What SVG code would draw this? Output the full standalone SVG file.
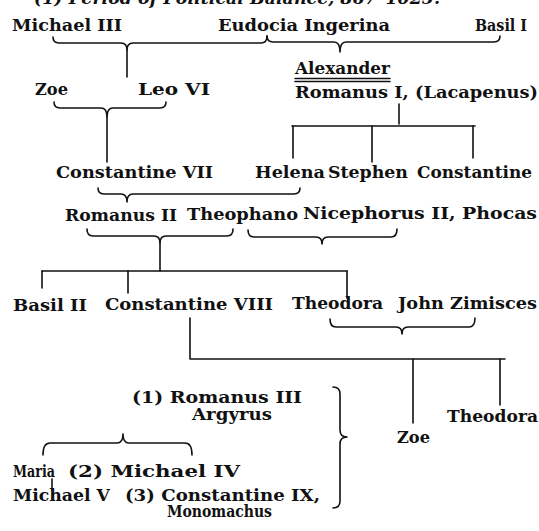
<svg xmlns="http://www.w3.org/2000/svg" width="539" height="531" viewBox="0 0 539 531">
<style>
  .t { font-family: "DejaVu Serif", "Liberation Serif", serif; font-weight: bold; font-size: 16.5px; fill: #111; }
  .h { font-family: "DejaVu Serif", "Liberation Serif", serif; font-style: italic; font-weight: bold; font-size: 16.5px; fill: #111; }
  .c { fill: none; stroke: #111; stroke-width: 1.6; stroke-linecap: round; stroke-linejoin: round; }
</style>
<rect width="539" height="531" fill="#fff"/>
<text class="h" x="34" y="3.5" textLength="406" lengthAdjust="spacingAndGlyphs">(1) Period of Political Balance, 867–1025.</text>

<g id="connectors">
  <!-- Michael III + Eudocia -> Leo VI -->
  <path class="c" d="M53,37 Q53,43 59,43 L121,43 Q127,43 127,50 Q127,43 133,43 L261,43 Q267,43 267,36"/>
  <path class="c" d="M127,50 L127,77"/>
  <!-- Eudocia + Basil I -> Alexander -->
  <path class="c" d="M267,36 Q267,42 273,42 L334,42 Q340,42 340,52 Q340,42 346,42 L494,42 Q500,42 500,36"/>
  <!-- Alexander double rule -->
  <path class="c" d="M295,78.5 L390,78.5 M295,81.5 L390,81.5" stroke-width="1.2"/>
  <!-- Zoe + Leo VI -> Constantine VII -->
  <path class="c" d="M54,102 Q54,108 60,108 L101,108 Q107,108 107,117 Q107,108 113,108 L160,108 Q166,108 166,102"/>
  <path class="c" d="M107,117 L107,162"/>
  <!-- Romanus I children -->
  <path class="c" d="M399,104 L399,124"/>
  <path class="c" d="M292,126 L475,126"/>
  <path class="c" d="M293,126 L293,158 M372,126 L372,162 M473,126 L473,158"/>
  <!-- Constantine VII + Helena -> Romanus II -->
  <path class="c" d="M98,188 Q98,194 104,194 L121,194 Q127,194 127,202 Q127,194 133,194 L294,194 Q300,194 300,188"/>
  <!-- Romanus II + Theophano -> children -->
  <path class="c" d="M87,229 Q87,236 93,236 L154,236 Q160,236 160,243 Q160,236 166,236 L227,236 Q233,236 233,229"/>
  <path class="c" d="M160,243 L160,271"/>
  <path class="c" d="M42,271 L347,271"/>
  <path class="c" d="M42,271 L42,288 M128,271 L128,293 M347,271 L347,298"/>
  <!-- Theophano + Nicephorus -->
  <path class="c" d="M248,230 Q248,237 254,237 L316,237 Q322,237 322,244 Q322,237 328,237 L391,237 Q397,237 397,229"/>
  <!-- Theodora + John Zimisces -->
  <path class="c" d="M330,319 Q330,327 336,327 L396,327 Q402,327 402,334 Q402,327 408,327 L469,327 Q475,327 475,318"/>
  <!-- Constantine VIII children -->
  <path class="c" d="M190,318 L190,359 L505,359"/>
  <path class="c" d="M413,359 L413,423 M500,359 L500,405"/>
  <!-- Maria + Michael IV -->
  <path class="c" d="M43,455 Q43,443 50,443 L117,443 Q123,443 123,434 Q123,443 129,443 L185,443 Q192,443 192,455"/>
  <path class="c" d="M52,479 L52,490"/>
  <!-- Big right brace (husbands of Zoe) -->
  <path class="c" d="M333,387 Q340,387 340,394 L340,430 Q340,437 347,437 Q340,437 340,444 L340,501 Q340,508 333,508"/>
</g>

<g id="michael-iii"><text class="t" x="12" y="30.5" textLength="110" lengthAdjust="spacingAndGlyphs">Michael III</text></g>
<g id="eudocia-ingerina"><text class="t" x="218" y="30.5" textLength="172" lengthAdjust="spacingAndGlyphs">Eudocia Ingerina</text></g>
<g id="basil-i"><text class="t" x="475" y="30.5" textLength="52" lengthAdjust="spacingAndGlyphs">Basil I</text></g>

<g id="zoe-1"><text class="t" x="35" y="95" textLength="33" lengthAdjust="spacingAndGlyphs">Zoe</text></g>
<g id="leo-vi"><text class="t" x="138" y="95" textLength="72" lengthAdjust="spacingAndGlyphs">Leo VI</text></g>
<g id="alexander"><text class="t" x="295" y="74" textLength="95" lengthAdjust="spacingAndGlyphs">Alexander</text></g>
<g id="romanus-i"><text class="t" x="295" y="98" textLength="243" lengthAdjust="spacingAndGlyphs">Romanus I, (Lacapenus)</text></g>

<g id="constantine-vii"><text class="t" x="56" y="178" textLength="157" lengthAdjust="spacingAndGlyphs">Constantine VII</text></g>
<g id="helena"><text class="t" x="255" y="178" textLength="70" lengthAdjust="spacingAndGlyphs">Helena</text></g>
<g id="stephen"><text class="t" x="328" y="178" textLength="80" lengthAdjust="spacingAndGlyphs">Stephen</text></g>
<g id="constantine"><text class="t" x="417" y="178" textLength="115" lengthAdjust="spacingAndGlyphs">Constantine</text></g>

<g id="romanus-ii"><text class="t" x="65" y="221" textLength="112" lengthAdjust="spacingAndGlyphs">Romanus II</text></g>
<g id="theophano"><text class="t" x="187" y="220" textLength="111" lengthAdjust="spacingAndGlyphs">Theophano</text></g>
<g id="nicephorus-ii"><text class="t" x="303" y="219" textLength="234" lengthAdjust="spacingAndGlyphs">Nicephorus II, Phocas</text></g>

<g id="basil-ii"><text class="t" x="13" y="311" textLength="74" lengthAdjust="spacingAndGlyphs">Basil II</text></g>
<g id="constantine-viii"><text class="t" x="105" y="310" textLength="168" lengthAdjust="spacingAndGlyphs">Constantine VIII</text></g>
<g id="theodora-1"><text class="t" x="292" y="309" textLength="91" lengthAdjust="spacingAndGlyphs">Theodora</text></g>
<g id="john-zimisces"><text class="t" x="398" y="309" textLength="139" lengthAdjust="spacingAndGlyphs">John Zimisces</text></g>

<g id="romanus-iii"><text class="t" x="132" y="403" textLength="170" lengthAdjust="spacingAndGlyphs">(1) Romanus III</text><text class="t" x="192" y="420" textLength="80" lengthAdjust="spacingAndGlyphs">Argyrus</text></g>
<g id="zoe-2"><text class="t" x="397" y="443" textLength="33" lengthAdjust="spacingAndGlyphs">Zoe</text></g>
<g id="theodora-2"><text class="t" x="447" y="422" textLength="91" lengthAdjust="spacingAndGlyphs">Theodora</text></g>

<g id="maria"><text class="t" x="13" y="477" textLength="42" lengthAdjust="spacingAndGlyphs">Maria</text></g>
<g id="michael-iv"><text class="t" x="68" y="477" textLength="172" lengthAdjust="spacingAndGlyphs">(2) Michael IV</text></g>
<g id="michael-v"><text class="t" x="13" y="501" textLength="97" lengthAdjust="spacingAndGlyphs">Michael V</text></g>
<g id="constantine-ix"><text class="t" x="125" y="501" textLength="195" lengthAdjust="spacingAndGlyphs">(3) Constantine IX,</text><text class="t" x="167" y="517" textLength="105" lengthAdjust="spacingAndGlyphs">Monomachus</text></g>
</svg>
